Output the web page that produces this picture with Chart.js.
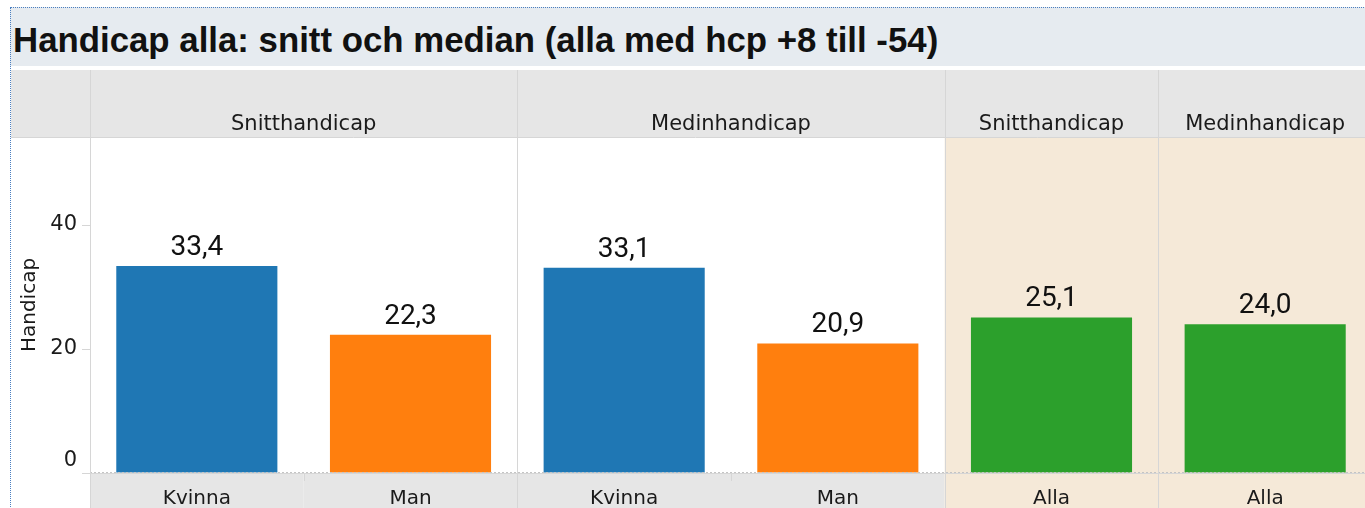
<!DOCTYPE html>
<html>
<head>
<meta charset="utf-8">
<script src="https://cdn.jsdelivr.net/npm/chart.js@4.4.1/dist/chart.umd.min.js"></script>
<style>
  html, body { margin: 0; padding: 0; background: #fff; }
  #wrap { position: relative; width: 1365px; height: 508px; overflow: hidden; }
  #c { position: absolute; left: 0; top: 0; }
  #titlebox { position: absolute; left: 10px; top: 7px; width: 1400px; height: 58px;
    background: #e6ebf0; border-top: 1px dotted #4a7fc1; }
  #leftborder { position: absolute; left: 10px; top: 7px; width: 0; height: 520px; border-left: 1px dotted #4a7fc1; }
  #title { position: absolute; left: 13px; top: 22px; margin: 0; font-family: "Liberation Sans", Arial, sans-serif;
    font-weight: bold; font-size: 34.8px; line-height: 35px; color: #111; white-space: nowrap; }
</style>
</head>
<body>
<div id="wrap">
  <canvas id="c" width="1380" height="508"></canvas>
  <div id="titlebox"></div>
  <div id="leftborder"></div>
  <h1 id="title">Handicap alla: snitt och median (alla med hcp +8 till -54)</h1>
</div>
<script>
// ---- data ----
const categories = ['Kvinna', 'Man', 'Kvinna', 'Man', 'Alla', 'Alla'];
const groups = ['Snitthandicap', 'Snitthandicap', 'Medinhandicap', 'Medinhandicap', 'Snitthandicap', 'Medinhandicap'];
const groupIds = [0, 0, 1, 1, 2, 3];
const values = [33.4, 22.3, 33.1, 20.9, 25.1, 24.0];
const yTicks = [0, 20, 40];
const yAxisTitle = 'Handicap';

// ---- styles ----
const barColors = ['#1f77b4', '#ff7f0e', '#1f77b4', '#ff7f0e', '#2ca02c', '#2ca02c'];
const shadedGroups = [2, 3];
const GRAY = '#e6e6e6', BEIGE = '#f5e9d8', LINE = '#d6d6d6';
const FONT = '"DejaVu Sans", sans-serif';
const TEXT = '#1a1a1a';

const HEADER_TOP = 70;

function boundaries(xs) {
  const n = categories.length;
  const pts = [];
  for (let i = 0; i < n; i++) pts.push(xs.getPixelForValue(i));
  const half = (pts[1] - pts[0]) / 2;
  const b = [pts[0] - half];
  for (let i = 1; i < n; i++) b.push((pts[i - 1] + pts[i]) / 2);
  b.push(pts[n - 1] + half);
  return b;
}

const decor = {
  id: 'decor',
  beforeDraw(chart) {
    const { ctx, chartArea: ca, scales } = chart;
    const xs = scales.x;
    const b = boundaries(xs);
    const W = chart.width, H = chart.height;
    ctx.save();
    ctx.fillStyle = '#fff';
    ctx.fillRect(0, 0, W, H);
    ctx.fillStyle = GRAY;
    ctx.fillRect(11, HEADER_TOP, W - 11, ca.top - HEADER_TOP);
    for (let i = 0; i < categories.length; i++) {
      const shaded = shadedGroups.includes(groupIds[i]);
      if (shaded) {
        ctx.fillStyle = BEIGE;
        ctx.fillRect(b[i], ca.top, b[i + 1] - b[i] + 20, H - ca.top);
      } else {
        ctx.fillStyle = GRAY;
        ctx.fillRect(b[i], ca.bottom, b[i + 1] - b[i], H - ca.bottom);
      }
    }
    ctx.restore();
  },
  afterDraw(chart) {
    const { ctx, chartArea: ca, scales } = chart;
    const xs = scales.x, ys = scales.y;
    const b = boundaries(xs);
    const W = chart.width, H = chart.height;
    ctx.save();
    ctx.strokeStyle = LINE;
    ctx.lineWidth = 1;
    ctx.beginPath();
    ctx.moveTo(11, ca.top + 0.5); ctx.lineTo(W, ca.top + 0.5);
    ctx.stroke();
    ctx.beginPath();
    ctx.moveTo(ca.left - 8, ca.bottom + 0.5); ctx.lineTo(W, ca.bottom + 0.5);
    ctx.stroke();
    ctx.setLineDash([2, 2]);
    ctx.strokeStyle = '#c4c4c4';
    ctx.beginPath();
    ctx.moveTo(ca.left, ca.bottom - 0.5); ctx.lineTo(W, ca.bottom - 0.5);
    ctx.stroke();
    ctx.setLineDash([]);
    ctx.strokeStyle = LINE;
    for (let i = 0; i < categories.length; i++) {
      const x = Math.round(b[i]) + 0.5;
      if (i === 0 || groupIds[i] !== groupIds[i - 1]) {
        ctx.beginPath();
        ctx.moveTo(x, HEADER_TOP); ctx.lineTo(x, H);
        ctx.stroke();
      } else {
        ctx.beginPath();
        ctx.moveTo(x, ca.bottom); ctx.lineTo(x, ca.bottom + 8);
        ctx.stroke();
      }
    }
    // header labels
    ctx.fillStyle = TEXT;
    ctx.font = '21px ' + FONT;
    ctx.textAlign = 'center';
    ctx.textBaseline = 'alphabetic';
    let start = 0;
    for (let i = 1; i <= categories.length; i++) {
      if (i === categories.length || groupIds[i] !== groupIds[start]) {
        const cx = (b[start] + b[i]) / 2;
        ctx.fillText(groups[start], cx, 130);
        start = i;
      }
    }
    // zero tick label kept inside the plot (like the original)
    ctx.font = '21px ' + FONT;
    ctx.textAlign = 'right';
    ctx.textBaseline = 'middle';
    ctx.fillText('0', ca.left - 13, ys.getPixelForValue(0) - 12);
    ctx.restore();
  },
  afterDatasetsDraw(chart) {
    const { ctx } = chart;
    const meta = chart.getDatasetMeta(0);
    ctx.save();
    ctx.fillStyle = '#111';
    ctx.font = '28px Roboto, sans-serif';
    ctx.textAlign = 'center';
    ctx.textBaseline = 'alphabetic';
    meta.data.forEach((bar, i) => {
      const v = values[i].toFixed(1).replace('.', ',');
      ctx.fillText(v, bar.x, bar.y - 11);
    });
    ctx.restore();
  }
};

new Chart(document.getElementById('c'), {
  type: 'bar',
  data: {
    labels: categories,
    datasets: [{
      data: values,
      backgroundColor: barColors,
      borderWidth: 0,
      categoryPercentage: 1,
      barPercentage: 0.754
    }]
  },
  options: {
    responsive: false,
    animation: false,
    devicePixelRatio: 1,
    layout: { padding: { left: 11, top: 137, right: 8, bottom: 0 } },
    plugins: { legend: { display: false }, tooltip: { enabled: false }, title: { display: false } },
    scales: {
      x: {
        grid: { display: false, drawTicks: false },
        border: { display: false },
        ticks: { color: TEXT, font: { family: FONT, size: 20 }, padding: 14, maxRotation: 0, autoSkip: false },
        afterFit(scale) { scale.height = 35; }
      },
      y: {
        min: 0, max: 54.2,
        afterBuildTicks(scale) { scale.ticks = yTicks.map(v => ({ value: v })); },
        ticks: { color: TEXT, font: { family: FONT, size: 21 }, padding: 5, includeBounds: false,
          callback: (v) => (v === 0 ? '' : String(v)) },
        grid: { drawOnChartArea: false, drawTicks: true, tickLength: 8, color: LINE },
        border: { display: false },
        title: { display: true, text: yAxisTitle, color: TEXT, font: { family: FONT, size: 20 }, padding: { top: 7, bottom: 0 } },
        afterFit(scale) { scale.width = 79; }
      }
    }
  },
  plugins: [decor]
});
</script>
</body>
</html>
